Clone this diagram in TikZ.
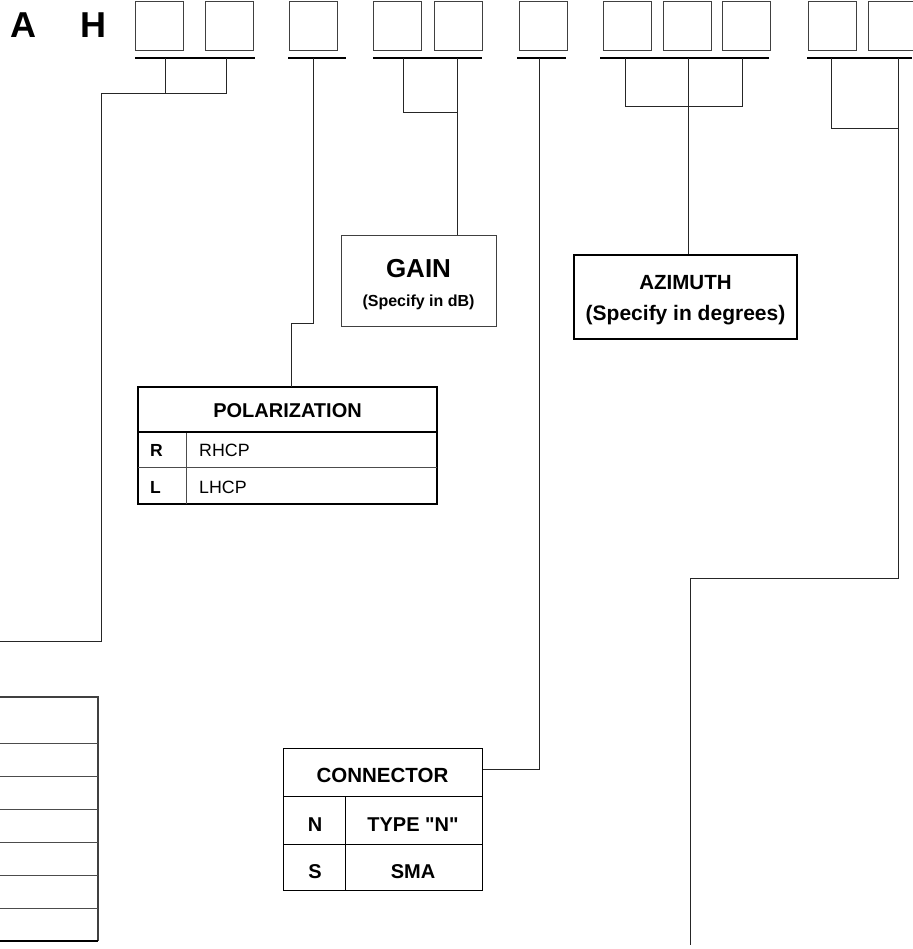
\documentclass[tikz,border=0pt]{standalone}
\usepackage{fontspec}
\setmainfont{Liberation Sans}
\newfontfamily\arialf{Liberation Sans}
\begin{document}
\begin{tikzpicture}[x=1pt,y=-1pt,
  digitbox/.style={draw=black!75, line width=1pt, minimum width=48pt, minimum height=49pt, inner sep=0pt, anchor=north west},
  ubar/.style={line width=2pt},
  wire/.style={line width=1pt, draw=black!85},
  frame/.style={draw, line width=1pt, inner sep=0pt},
  big/.style={font=\arialf\fontsize{36}{40}\selectfont\bfseries, inner sep=0pt},
  lbl/.style={font=\arialf\fontsize{#1}{#1}\selectfont\bfseries, inner sep=0pt, anchor=base},
  reg/.style={font=\arialf\fontsize{#1}{#1}\selectfont, inner sep=0pt, anchor=base west},
  thinln/.style={line width=1pt, draw=black!70}]
\useasboundingbox (0,0) rectangle (912,949);

% letters
\node[big] (la) at (23,25) {A};
\node[big] (lh) at (93,25) {H};

% digit boxes
\node[digitbox] (b1) at (135,1) {};
\node[digitbox] (b2) at (205,1) {};
\node[digitbox] (b3) at (289,1) {};
\node[digitbox] (b4) at (373,1) {};
\node[digitbox] (b5) at (434,1) {};
\node[digitbox] (b6) at (519,1) {};
\node[digitbox] (b7) at (603,1) {};
\node[digitbox] (b8) at (663,1) {};
\node[digitbox] (b9) at (722,1) {};
\node[digitbox] (b10) at (808,1) {};
\node[digitbox] (b11) at (868,1) {};

% underlines
\draw[ubar] (135,58) -- (255,58);
\draw[ubar] (288,58) -- (346,58);
\draw[ubar] (373,58) -- (482,58);
\draw[ubar] (517,58) -- (566,58);
\draw[ubar,line width=2.5pt] (600,58) -- (769,58);
\draw[ubar] (807,58) -- (912,58);

% GAIN box
\node[frame, draw=black!75, minimum width=155pt, minimum height=90pt] (gain) at (418.5,281) {};
\node[lbl=26] (gaint) at (418.5,277) {GAIN};
\node[lbl=16] (gains) at (418.5,306) {(Specify in dB)};

% AZIMUTH box
\node[frame, line width=1.5pt, minimum width=223pt, minimum height=84pt] (azi) at (685.5,297) {};
\node[lbl=20.5] (azit) at (685.5,290) {AZIMUTH};
\node[lbl=21] (azis) at (685.5,320) {(Specify in degrees)};

% POLARIZATION table
\node[frame, line width=1.5pt, minimum width=299pt, minimum height=117pt] (pol) at (287.5,445.5) {};
\draw[thinln] (138,432) -- (437,432);
\draw[thinln] (138,467) -- (437,467);
\draw[thinln] (186,432) -- (186,504);
\draw[line width=1.5pt] (138,387) -- (437,387) -- (437,432) -- (138,432) -- cycle;
\node[lbl=20] (polt) at (287.5,417) {POLARIZATION};
\node[lbl=17.5, anchor=base west] (pr) at (150,456) {R};
\node[reg=17.8] (prt) at (199,456) {RHCP};
\node[lbl=17.5, anchor=base west] (pl) at (150,493) {L};
\node[reg=17.8] (plt) at (199,493) {LHCP};

% CONNECTOR table
\node[frame, minimum width=199pt, minimum height=142pt] (con) at (382.5,819) {};
\draw[line width=1pt] (283,796) -- (482,796);
\draw[line width=1pt] (283,844) -- (482,844);
\draw[line width=1pt] (345,796) -- (345,890);
\node[lbl=20.5] (cont) at (382.5,782) {CONNECTOR};
\node[lbl=20] (cn) at (315,831) {N};
\node[lbl=20] (cnt) at (413,831) {TYPE "N"};
\node[lbl=20] (cs) at (315,878) {S};
\node[lbl=20] (cst) at (413,878) {SMA};

% left table (cut off)
\draw[line width=1.2pt, draw=black!75] (0,697) -- (98,697) -- (98,941);
\foreach \yy in {743,776,809,842,875,908}
  \draw[thinln] (0,\yy) -- (98,\yy);
\draw[line width=2pt] (0,941) -- (98,941);

% connectors
% group 1
\coordinate (g1a) at (165,58);
\coordinate (g1b) at (226,58);
\coordinate (g1end) at (0,641);
\draw[wire] (g1a) -- (165,94);
\draw[wire] (g1b) -- (226,94) -- (101,94) -- (101,641) -- (g1end);
% group 2
\coordinate (g2a) at (313,58);
\draw[wire] (g2a) -- (313,323) -- (291,323) -- (291,387);
% group 3
\coordinate (g3a) at (403,58);
\coordinate (g3b) at (457,58);
\draw[wire] (g3a) -- (403,113) -- (457,113);
\draw[wire] (g3b) -- (gain.north -| g3b);
% group 4
\coordinate (g4a) at (539,58);
\draw[wire] (g4a) -- (539,769) -- (con.east |- 0,769);
% group 5
\coordinate (g5a) at (625,58);
\coordinate (g5b) at (688,58);
\coordinate (g5c) at (742,58);
\draw[wire] (g5a) -- (625,107) -- (742,107) -- (g5c);
\draw[wire] (g5b) -- (azi.north -| g5b);
% group 6
\coordinate (g6a) at (831,58);
\coordinate (g6b) at (898,58);
\coordinate (g6end) at (690,945);
\draw[wire] (g6a) -- (831,129) -- (898,129);
\draw[wire] (g6b) -- (898,578) -- (690,578) -- (g6end);
\end{tikzpicture}
\end{document}
